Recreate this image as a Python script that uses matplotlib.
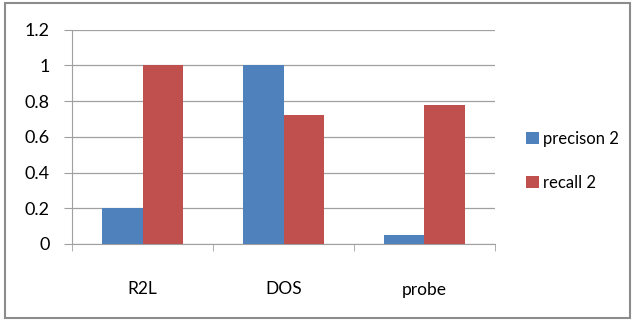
import matplotlib.pyplot as plt
import matplotlib.patches as mpatches
import numpy as np

categories = ["R2L", "DOS", "probe"]
precision = [0.2, 1.0, 0.05]
recall = [1.0, 0.72, 0.78]

plt.rcParams['font.family'] = ['Lato', 'DejaVu Sans']

fig = plt.figure(figsize=(6.34, 3.21), dpi=100)
ax = fig.add_axes([72 / 634, 1 - 244 / 321, (495 - 72) / 634, (244 - 29.5) / 321])

x = np.arange(len(categories))
w = 0.286
ax.bar(x - w / 2, precision, w, color="#4F81BD", label="precison 2", zorder=3)
ax.bar(x + w / 2, recall, w, color="#C0504D", label="recall 2", zorder=3)

ax.set_xlim(-0.5, len(categories) - 0.5)
ax.set_ylim(0, 1.2)
ax.set_yticks(np.arange(0, 1.21, 0.2))
ax.set_yticklabels(["0", "0.2", "0.4", "0.6", "0.8", "1", "1.2"], fontsize=13)
ax.yaxis.grid(True, color="#A0A0A0", linewidth=0.9, zorder=0)

ax.set_xticks(x)
ax.set_xticklabels(categories, fontsize=12.5)
ax.tick_params(axis="x", which="major", length=0, pad=27)
ax.set_xticks(np.arange(-0.5, len(categories), 1.0), minor=True)
ax.tick_params(axis="x", which="minor", length=5, color="#A0A0A0", direction="out")
ax.tick_params(axis="y", length=6, color="#A0A0A0", pad=10)

for s in ["top", "right"]:
    ax.spines[s].set_visible(False)
for s in ["left", "bottom"]:
    ax.spines[s].set_color("#A0A0A0")

fig.legend(loc="center left", bbox_to_anchor=(511 / 634, 1 - 161 / 321), frameon=False,
           fontsize=12, labelspacing=1.7, handlelength=0.75, handleheight=0.75,
           handletextpad=0.25)

fig.patches.append(mpatches.Rectangle((5 / 634, 3 / 321), 625 / 634, 315 / 321,
                                      transform=fig.transFigure, fill=False,
                                      edgecolor="#8C8C8C", linewidth=1.5))

fig.savefig("out.png", dpi=100)
